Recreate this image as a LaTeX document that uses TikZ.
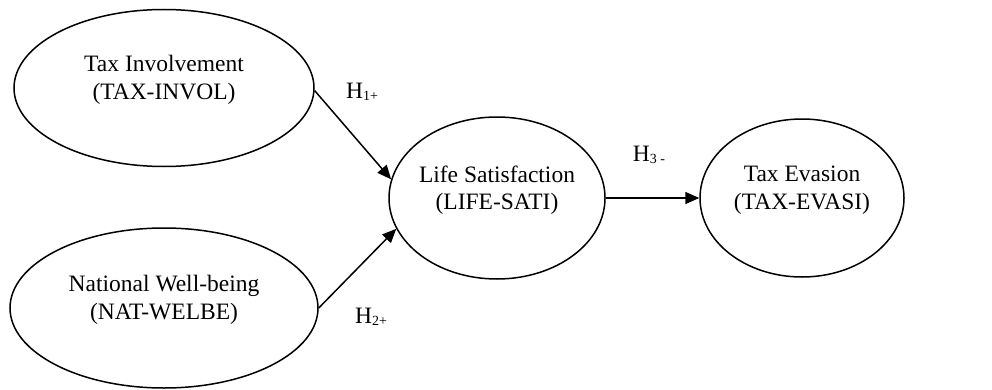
\documentclass[tikz,border=0pt]{standalone}
\usepackage{fontspec}
\setmainfont{Liberation Serif}
\usetikzlibrary{shapes.geometric,arrows.meta}
\tikzset{
  construct/.style={draw, ellipse, line width=1.5pt, inner sep=0pt},
  intext/.style={align=center, font=\fontsize{23.5}{27.5}\selectfont, yshift=8pt},
  path/.style={line width=1.5pt, -{Triangle[length=14pt,width=12pt]}},
  hyp/.style={font=\fontsize{23.5}{27.5}\selectfont}
}
\newcommand{\hsub}[1]{\raisebox{-2pt}{\fontsize{14}{14}\selectfont #1}}
\begin{document}
\begin{tikzpicture}[x=1pt,y=1pt]
\useasboundingbox (0,0) rectangle (992,389);
\node[construct, minimum width=300pt, minimum height=157pt,
  label={[intext]center:Tax Involvement\\(TAX-INVOL)}] (e1) at (164,301) {};
\node[construct, minimum width=308pt, minimum height=160pt,
  label={[intext]center:National Well-being\\(NAT-WELBE)}] (e2) at (164,81) {};
\node[construct, minimum width=216pt, minimum height=162pt,
  label={[intext]center:Life Satisfaction\\(LIFE-SATI)}] (e3) at (497,191) {};
\node[construct, minimum width=204pt, minimum height=158pt,
  label={[intext]center:Tax Evasion\\(TAX-EVASI)}] (e4) at (802,191) {};
\draw[path] (e1.-1) -- (e3.170);
\draw[path] (e2.east) -- (e3.197);
\draw[path] (e3.east) -- (e4.west);
\node[hyp] (h1) at (362,297) {H\hsub{1+}};
\node[hyp] (h2) at (371,72) {H\hsub{2+}};
\node[hyp] (h3) at (649,234) {H\hsub{3 -}};
\end{tikzpicture}
\end{document}
